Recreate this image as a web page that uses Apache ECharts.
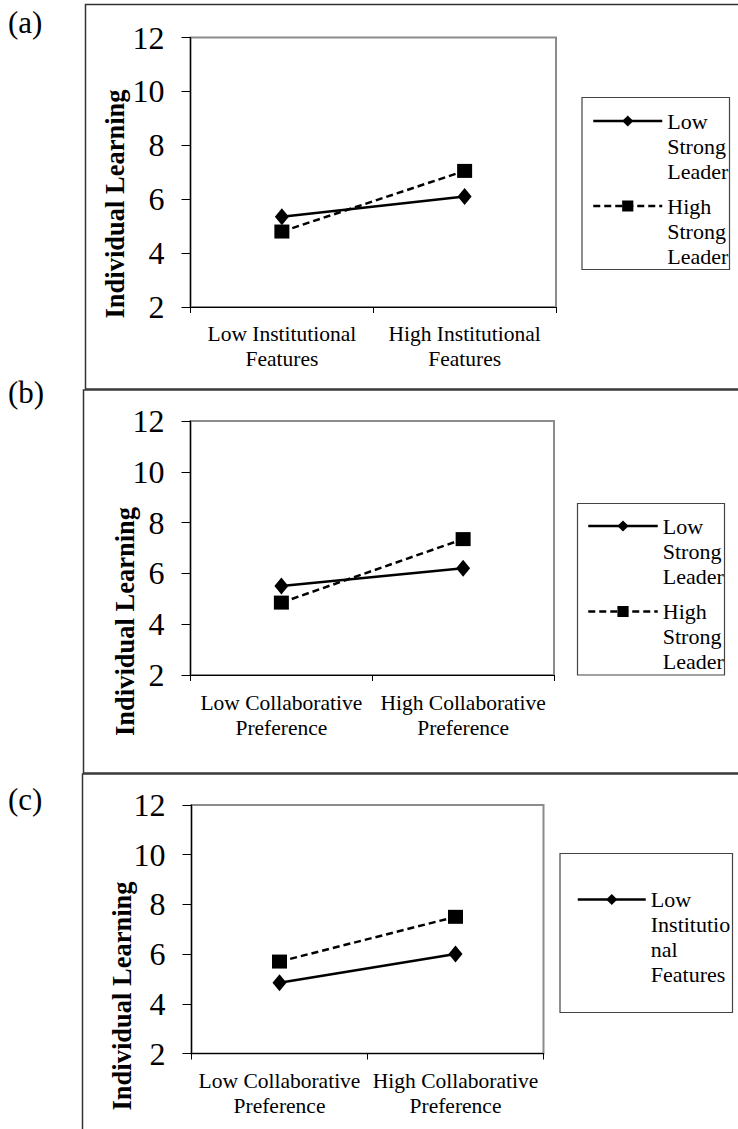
<!DOCTYPE html>
<html>
<head>
<meta charset="utf-8">
<script src="https://cdn.jsdelivr.net/npm/echarts@6/dist/echarts.min.js"></script>
<style>
html,body{margin:0;padding:0;background:#fff;}
#chart{width:738px;height:1129px;}
</style>
</head>
<body>
<div id="chart"></div>
<script>
// ---- data ----
const yTicks = [2, 4, 6, 8, 10, 12];
const catsA = ['Low Institutional\nFeatures', 'High Institutional\nFeatures'];
const catsB = ['Low Collaborative\nPreference', 'High Collaborative\nPreference'];
const catsC = ['Low Collaborative\nPreference', 'High Collaborative\nPreference'];

const lowStrongLeaderA = [5.35, 6.1];
const highStrongLeaderA = [4.8, 7.05];
const lowStrongLeaderB = [5.5, 6.2];
const highStrongLeaderB = [4.85, 7.35];
const lowInstitutionalC = [4.85, 6.0];
const highInstitutionalC = [5.7, 7.5];

const panelLabels = ['(a)', '(b)', '(c)'];
const yName = 'Individual Learning';
const legendWrapped = {
  'Low Strong Leader': ['Low', 'Strong', 'Leader'],
  'High Strong Leader': ['High', 'Strong', 'Leader'],
  'Low Institutional Features': ['Low', 'Institutio', 'nal', 'Features']
};

// ---- styling ----
const FONT = '"Liberation Serif", "Times New Roman", Times, serif';
const grids = [
  {left: 190.5, top: 37.5, width: 365.5, height: 269.5},
  {left: 190.5, top: 421, width: 363.5, height: 254},
  {left: 191.5, top: 805, width: 352, height: 248.5}
];
const xMargins = [14, 15.5, 15];

const chart = echarts.init(document.getElementById('chart'), null, {renderer: 'svg'});

function xAxis(i, cats) {
  return {
    type: 'category', gridIndex: i, data: cats, boundaryGap: true,
    axisLine: {show: true, lineStyle: {color: '#000', width: 1.2}},
    axisTick: {show: true, length: 6, inside: false, lineStyle: {color: '#000', width: 1}},
    axisLabel: {color: '#000', fontFamily: FONT, fontSize: 21.5, lineHeight: 25, margin: xMargins[i], interval: 0},
    splitLine: {show: false}
  };
}
function yAxis(i) {
  return {
    type: 'value', gridIndex: i, min: yTicks[0], max: yTicks[yTicks.length - 1], interval: 2,
    axisLine: {show: true, lineStyle: {color: '#000', width: 1.2}},
    axisTick: {show: true, length: 9, lineStyle: {color: '#000', width: 1}},
    axisLabel: {color: '#000', fontFamily: FONT, fontSize: 32, margin: 26},
    splitLine: {show: false}
  };
}
function solidSeries(name, i, data) {
  return {
    name: name, type: 'line', xAxisIndex: i, yAxisIndex: i, data: data,
    symbol: 'diamond', symbolSize: [14, 17],
    lineStyle: {color: '#000', width: 2.5, type: 'solid'},
    itemStyle: {color: '#000'}, emphasis: {disabled: true}, animation: false
  };
}
function dashedSeries(name, i, data) {
  return {
    name: name, type: 'line', xAxisIndex: i, yAxisIndex: i, data: data,
    symbol: 'rect', symbolSize: [15, 14],
    lineStyle: {color: '#000', width: 2.5, type: [7, 4]},
    itemStyle: {color: '#000'}, emphasis: {disabled: true}, animation: false
  };
}
function legendItem(name, left, iconCenter, itemWidth) {
  const lh = 25;
  const lines = legendWrapped[name];
  const n = lines.length;
  const H = (2 * n - 1) * lh;
  return {
    data: [name], orient: 'vertical', left: left, top: iconCenter - H / 2 + 2,
    padding: 0, itemWidth: itemWidth, itemHeight: 14, itemGap: 0, selectedMode: false,
    // leading blank lines so that the first line of the label sits beside the icon
    formatter: function (nm) {
      const ls = legendWrapped[nm];
      return new Array(ls.length).join('\n') + ls.join('\n');
    },
    lineStyle: {width: 2.5},
    textStyle: {color: '#000', fontFamily: FONT, fontSize: 22, lineHeight: lh}
  };
}

function frameRect(x, y, w, h) {
  return {type: 'rect', shape: {x: x, y: y, width: w, height: h},
    style: {fill: 'none', stroke: '#333', lineWidth: 1.5}, silent: true, z: -1};
}
function legendBox(x, y, w, h) {
  return {type: 'rect', shape: {x: x, y: y, width: w, height: h},
    style: {fill: 'none', stroke: '#444', lineWidth: 1.2}, silent: true};
}
function label(t, x, y) {
  return {type: 'text', x: x, y: y, style: {text: t, font: '31px ' + FONT, fill: '#000', align: 'left', verticalAlign: 'middle'}};
}
function yTitle(x, y) {
  return {type: 'text', x: x, y: y, rotation: Math.PI / 2,
    style: {text: yName, font: 'bold 26.5px ' + FONT, fill: '#000', align: 'center', verticalAlign: 'middle'}};
}

const option = {
  backgroundColor: '#fff',
  animation: false,
  grid: grids.map(g => Object.assign({show: true, borderColor: '#8c8c8c', borderWidth: 2, backgroundColor: 'transparent'}, g)),
  xAxis: [xAxis(0, catsA), xAxis(1, catsB), xAxis(2, catsC)],
  yAxis: [yAxis(0), yAxis(1), yAxis(2)],
  legend: [
    legendItem('Low Strong Leader', 592, 119, 69),
    legendItem('High Strong Leader', 592, 204, 69),
    legendItem('Low Strong Leader', 587, 524, 69.5),
    legendItem('High Strong Leader', 587, 609.5, 69.5),
    legendItem('Low Institutional Features', 576.5, 897.5, 68)
  ],
  series: [
    solidSeries('Low Strong Leader', 0, lowStrongLeaderA),
    dashedSeries('High Strong Leader', 0, highStrongLeaderA),
    solidSeries('Low Strong Leader', 1, lowStrongLeaderB),
    dashedSeries('High Strong Leader', 1, highStrongLeaderB),
    solidSeries('Low Institutional Features', 2, lowInstitutionalC),
    dashedSeries('High Institutional Features', 2, highInstitutionalC)
  ],
  graphic: [
    frameRect(85.5, 4.5, 700, 384.5),
    frameRect(83.5, 390, 700, 383),
    frameRect(82.5, 774, 700, 420),
    legendBox(582, 97.5, 147.5, 172),
    legendBox(577.5, 503.5, 147, 171.5),
    legendBox(560, 853.5, 172.5, 159),
    label(panelLabels[0], 8, 22),
    label(panelLabels[1], 8, 392),
    label(panelLabels[2], 8, 799),
    yTitle(115, 204),
    yTitle(124.5, 621.5),
    yTitle(122, 996)
  ]
};
chart.setOption(option);
</script>
</body>
</html>
